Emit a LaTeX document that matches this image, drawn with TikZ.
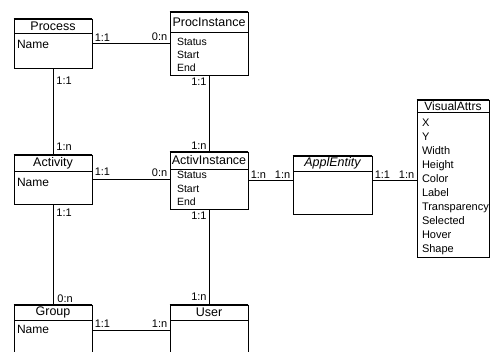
\documentclass[tikz,border=0pt]{standalone}
\usepackage{fontspec}
\setmainfont{Liberation Sans}
\begin{document}
\begin{tikzpicture}[x=1pt,y=-1pt,line width=0.8pt,
  box/.style={draw,inner sep=0pt},
  head/.style={draw,inner sep=0pt,anchor=north,font=\fontsize{12.5}{14}\selectfont,
    append after command={(\tikzlastnode.north west) edge[line width=1.6pt] (\tikzlastnode.north east)
      (\tikzlastnode.north east) edge[line width=1.6pt] (\tikzlastnode.south east)}},
  attr/.style={inner sep=0pt,anchor=north west,align=left,font=\fontsize{12}{14}\selectfont},
  inst/.style={attr,font=\fontsize{10.5}{13.4}\selectfont},
  card/.style={inner sep=2pt,font=\fontsize{11}{13}\selectfont}]
  \useasboundingbox (0,0) rectangle (490,352);
  \clip (0,0) rectangle (490,352);

  \node[box,minimum width=78pt,minimum height=49pt] (process) at (53,43.5) {};
  \node[head,minimum width=78pt,minimum height=14pt] (process-h) at (process.north) {Process};
  \node[attr] (process-a) at ([shift={(3,6)}]process-h.south west) {Name};

  \node[box,minimum width=78pt,minimum height=63pt] (procinst) at (209,43.5) {};
  \node[head,minimum width=78pt,minimum height=20pt] (procinst-h) at (procinst.north) {ProcInstance};
  \node[inst] (procinst-a) at ([shift={(7,5)}]procinst-h.south west) {Status\\Start\\End};

  \node[box,minimum width=78pt,minimum height=49pt] (activity) at (53,179.5) {};
  \node[head,minimum width=78pt,minimum height=16pt] (activity-h) at (activity.north) {Activity};
  \node[attr] (activity-a) at ([shift={(3,6)}]activity-h.south west) {Name};

  \node[box,minimum width=78pt,minimum height=57pt] (actinst) at (209,180.5) {};
  \node[head,minimum width=78pt,minimum height=17pt] (actinst-h) at (actinst.north) {ActivInstance};
  \node[inst] (actinst-a) at ([shift={(7,1.5)}]actinst-h.south west) {Status\\Start\\End};

  \node[box,minimum width=78pt,minimum height=50pt] (group) at (53,330) {};
  \node[head,minimum width=78pt,minimum height=15pt] (group-h) at (group.north) {Group};
  \node[attr] (group-a) at ([shift={(3,4)}]group-h.south west) {Name};

  \node[box,minimum width=78pt,minimum height=50pt] (user) at (209,330) {};
  \node[head,minimum width=78pt,minimum height=15pt] (user-h) at (user.north) {User};

  \node[box,minimum width=79pt,minimum height=58pt] (appl) at (332.5,185) {};
  \node[head,minimum width=79pt,minimum height=15pt] (appl-h) at (appl.north) {\itshape ApplEntity};

  \node[box,minimum width=72pt,minimum height=157pt] (visattr) at (453,178.5) {};
  \node[head,minimum width=72pt,minimum height=12.5pt,font=\fontsize{12}{14}\selectfont] (visattr-h) at (visattr.north) {VisualAttrs};
  \node[attr,font=\fontsize{11}{14}\selectfont] (visattr-a) at ([shift={(5,5.5)}]visattr-h.south west)
    {X\\Y\\Width\\Height\\Color\\Label\\Transparency\\Selected\\Hover\\Shape};

  \draw (process) -- (procinst) node[card,pos=0,above right] {1:1} node[card,pos=1,above left] {0:n};
  \draw (process) -- (activity) node[card,pos=0,below right,shift={(1,6)}] {1:1}
    node[card,pos=1,above right,shift={(1,-2)}] {1:n};
  \draw (procinst) -- (actinst) node[card,pos=0,below left] {1:1} node[card,pos=1,above left] {1:n};
  \draw (activity.east) -- (activity.east -| actinst.west) node[card,pos=0,above right,shift={(0,-2)}] {1:1}
    node[card,pos=1,above left] {0:n};
  \draw (activity) -- (group) node[card,pos=0,below right,shift={(1,2)}] {1:1}
    node[card,pos=1,above right,shift={(2,0)}] {0:n};
  \draw (actinst) -- (user) node[card,pos=0,below left] {1:1} node[card,pos=1,above left,shift={(0,-2)}] {1:n};
  \draw (group) -- (user) node[card,pos=0,above right] {1:1} node[card,pos=1,above left] {1:n};
  \draw (actinst.east) -- (actinst.east -| appl.west) node[card,pos=0,above right] {1:n}
    node[card,pos=1,above left] {1:n};
  \draw (appl.east |- actinst.east) -- (actinst.east -| visattr.west) node[card,pos=0,above right] {1:1}
    node[card,pos=1,above left] {1:n};
\end{tikzpicture}
\end{document}
